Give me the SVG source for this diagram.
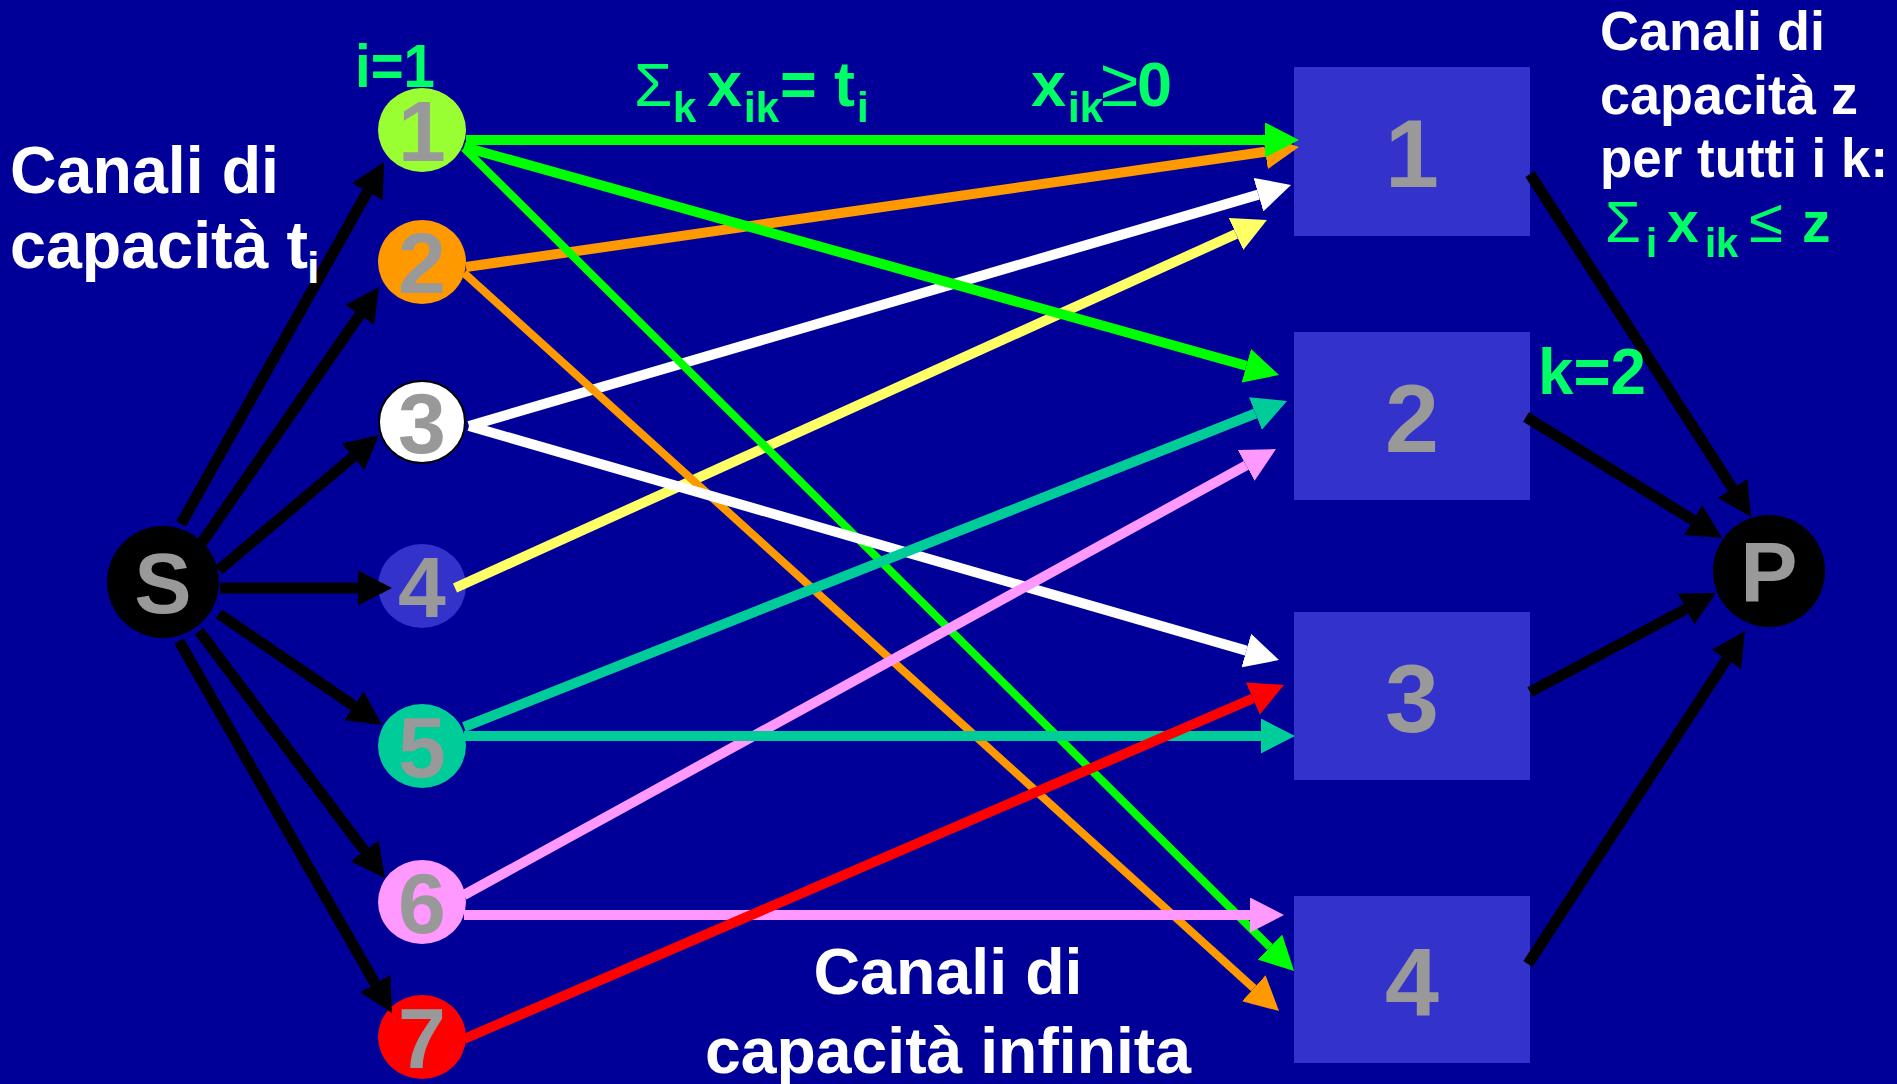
<svg xmlns="http://www.w3.org/2000/svg" width="1897" height="1084" viewBox="0 0 1897 1084">
  <defs>
    <marker id="ah-black" markerUnits="userSpaceOnUse" markerWidth="34" markerHeight="35" viewBox="0 0 34 35" refX="0" refY="17.5" orient="auto"><path d="M0,0 L34,17.5 L0,35 z" fill="#000000"/></marker>
    <marker id="ah-green" markerUnits="userSpaceOnUse" markerWidth="34" markerHeight="35" viewBox="0 0 34 35" refX="0" refY="17.5" orient="auto"><path d="M0,0 L34,17.5 L0,35 z" fill="#00FF00"/></marker>
    <marker id="ah-orange" markerUnits="userSpaceOnUse" markerWidth="34" markerHeight="35" viewBox="0 0 34 35" refX="0" refY="17.5" orient="auto"><path d="M0,0 L34,17.5 L0,35 z" fill="#FF9900"/></marker>
    <marker id="ah-white" markerUnits="userSpaceOnUse" markerWidth="34" markerHeight="35" viewBox="0 0 34 35" refX="0" refY="17.5" orient="auto"><path d="M0,0 L34,17.5 L0,35 z" fill="#FFFFFF"/></marker>
    <marker id="ah-yellow" markerUnits="userSpaceOnUse" markerWidth="34" markerHeight="35" viewBox="0 0 34 35" refX="0" refY="17.5" orient="auto"><path d="M0,0 L34,17.5 L0,35 z" fill="#FFFF66"/></marker>
    <marker id="ah-teal" markerUnits="userSpaceOnUse" markerWidth="34" markerHeight="35" viewBox="0 0 34 35" refX="0" refY="17.5" orient="auto"><path d="M0,0 L34,17.5 L0,35 z" fill="#00CC99"/></marker>
    <marker id="ah-pink" markerUnits="userSpaceOnUse" markerWidth="34" markerHeight="35" viewBox="0 0 34 35" refX="0" refY="17.5" orient="auto"><path d="M0,0 L34,17.5 L0,35 z" fill="#FF99FF"/></marker>
    <marker id="ah-red" markerUnits="userSpaceOnUse" markerWidth="34" markerHeight="35" viewBox="0 0 34 35" refX="0" refY="17.5" orient="auto"><path d="M0,0 L34,17.5 L0,35 z" fill="#FF0000"/></marker>
  </defs>
  <style>
    text { font-family: "Liberation Sans", Arial, sans-serif; font-weight: bold; }
    .num { fill: #999999; font-size: 86px; text-anchor: middle; }
    .boxnum { fill: #999999; font-size: 97px; text-anchor: middle; }
    .box { fill: #3333CC; }
    .note { fill: #FFFFFF; }
    .math { fill: #00FF66; }
    .sym { font-weight: normal; }
    .edge { fill: none; stroke-width: 10; }
    .black { stroke: #000000; stroke-width: 11; marker-end: url(#ah-black); }
    .green { stroke: #00FF00; marker-end: url(#ah-green); }
    .orange { stroke: #FF9900; marker-end: url(#ah-orange); }
    .white { stroke: #FFFFFF; marker-end: url(#ah-white); }
    .yellow { stroke: #FFFF66; marker-end: url(#ah-yellow); }
    .teal { stroke: #00CC99; marker-end: url(#ah-teal); }
    .pink { stroke: #FF99FF; marker-end: url(#ah-pink); }
    .red { stroke: #FF0000; marker-end: url(#ah-red); }
    .thin { stroke-width: 8; }
  </style>

  <!-- background -->
  <rect x="0" y="0" width="1897" height="1084" fill="#000099"/>

  <!-- source -->
  <g id="node-S">
    <circle cx="163" cy="582" r="56" fill="#000000"/>
    <text class="num" x="163" y="613">S</text>
  </g>

  <!-- sources i = 1..7 -->
  <g id="node-i1">
    <ellipse cx="422" cy="130" rx="44" ry="42" fill="#99FF33"/>
    <text class="num" x="422" y="161">1</text>
  </g>
  <g id="node-i2">
    <ellipse cx="422" cy="262" rx="44" ry="42" fill="#FF9900"/>
    <text class="num" x="422" y="293">2</text>
  </g>
  <g id="node-i3">
    <ellipse cx="422" cy="422" rx="43" ry="41" fill="#FFFFFF" stroke="#000000" stroke-width="2"/>
    <text class="num" x="422" y="453">3</text>
  </g>
  <g id="node-i4">
    <ellipse cx="422" cy="586" rx="44" ry="42" fill="#3333CC"/>
    <text class="num" x="422" y="617">4</text>
  </g>
  <g id="node-i5">
    <ellipse cx="422" cy="746" rx="44" ry="42" fill="#00CC99"/>
    <text class="num" x="422" y="777">5</text>
  </g>
  <g id="node-i6">
    <ellipse cx="422" cy="902" rx="44" ry="42" fill="#FF99FF"/>
    <text class="num" x="422" y="933">6</text>
  </g>
  <g id="node-i7">
    <ellipse cx="422" cy="1037" rx="44" ry="42" fill="#FF0000"/>
    <text class="num" x="422" y="1068">7</text>
  </g>

  <!-- destinations k = 1..4 -->
  <g id="node-k1">
    <rect class="box" x="1294" y="67" width="236" height="169"/>
    <text class="boxnum" x="1412" y="187">1</text>
  </g>
  <g id="node-k2">
    <rect class="box" x="1294" y="332" width="236" height="168"/>
    <text class="boxnum" x="1412" y="452">2</text>
  </g>
  <g id="node-k3">
    <rect class="box" x="1294" y="612" width="236" height="168"/>
    <text class="boxnum" x="1412" y="732">3</text>
  </g>
  <g id="node-k4">
    <rect class="box" x="1294" y="896" width="236" height="167"/>
    <text class="boxnum" x="1412" y="1016">4</text>
  </g>

  <!-- sink -->
  <g id="node-P">
    <circle cx="1769" cy="571" r="56" fill="#000000"/>
    <text class="num" x="1769" y="602">P</text>
  </g>

  <!-- arcs -->
  <g id="connectors">
    <!-- S to sources -->
    <path class="edge black" d="M181,524 L367.4,191.7"/>
    <path class="edge black" d="M201,544 L359.7,314.9"/>
    <path class="edge black" d="M219,570 L353,456.9"/>
    <path class="edge black" d="M220,588 L358,588"/>
    <path class="edge black" d="M219,614 L353.9,705.9"/>
    <path class="edge black" d="M199,631 L364.5,850.8"/>
    <path class="edge black" d="M179,641 L375.1,983.5"/>

    <!-- destinations to P -->
    <path class="edge black" d="M1530,174 L1732.6,488.4"/>
    <path class="edge black" d="M1526,417 L1693.1,520.1"/>
    <path class="edge black" d="M1530,692 L1686,609"/>
    <path class="edge black" d="M1528,964 L1726.4,659.5"/>

    <!-- sources to destinations -->
    <path class="edge orange" d="M466,267 L1265.3,151.8"/>
    <path class="edge green" d="M466,140 L1265,140"/>
    <path class="edge white" d="M469,426 L1258.4,194.6"/>
    <path class="edge yellow" d="M455,588 L1236,234"/>
    <path class="edge green" d="M464,147 L1246.3,365.8"/>
    <path class="edge orange thin" d="M464,273 L1253.8,988.2"/>
    <path class="edge green thin" d="M464,148 L1269.9,947.1"/>
    <path class="edge white" d="M469,426 L1246.3,650.6"/>
    <path class="edge teal" d="M464,727 L1255.4,413.5"/>
    <path class="edge pink" d="M464,895 L1246.2,465.4"/>
    <path class="edge teal" d="M464,736 L1261,736"/>
    <path class="edge pink" d="M464,915 L1250,915"/>
    <path class="edge red" d="M464,1039 L1252.8,698.5"/>
  </g>

  <!-- annotations -->
  <text class="math" x="355" y="87" font-size="62" textLength="80" lengthAdjust="spacingAndGlyphs">i=1</text>

  <text class="note" x="10" y="193" font-size="67" textLength="269" lengthAdjust="spacingAndGlyphs">Canali di</text>
  <text class="note" x="10" y="268" font-size="67" textLength="298" lengthAdjust="spacingAndGlyphs">capacità t</text>
  <text class="note" x="307" y="283" font-size="45">i</text>

  <text class="math" y="106">
    <tspan class="sym" x="634" font-size="62">Σ</tspan><tspan x="673" y="122" font-size="42">k</tspan><tspan x="707" y="106" font-size="63">x</tspan><tspan x="744" y="122" font-size="42">ik</tspan><tspan x="780" y="106" font-size="63">=</tspan><tspan x="834" y="106" font-size="63">t</tspan><tspan x="857" y="122" font-size="42">i</tspan>
  </text>
  <text class="math" y="106">
    <tspan x="1031" font-size="63">x</tspan><tspan x="1068" y="122" font-size="42">ik</tspan><tspan class="sym" x="1101" y="106" font-size="68">≥</tspan><tspan x="1137" y="106" font-size="63">0</tspan>
  </text>

  <text class="note" x="1600" y="50" font-size="56" textLength="225" lengthAdjust="spacingAndGlyphs">Canali di</text>
  <text class="note" x="1600" y="114" font-size="56" textLength="258" lengthAdjust="spacingAndGlyphs">capacità z</text>
  <text class="note" x="1600" y="177" font-size="56" textLength="288" lengthAdjust="spacingAndGlyphs">per tutti i k:</text>
  <text class="math" y="242">
    <tspan class="sym" x="1605" font-size="58">Σ</tspan><tspan x="1646" y="257" font-size="40">i</tspan><tspan x="1667" y="242" font-size="57">x</tspan><tspan x="1705" y="257" font-size="40">ik</tspan><tspan class="sym" x="1749" y="242" font-size="62">≤</tspan><tspan x="1802" y="242" font-size="57">z</tspan>
  </text>

  <text class="math" x="1538" y="394" font-size="64" textLength="108" lengthAdjust="spacingAndGlyphs">k=2</text>

  <text class="note" x="948" y="994" font-size="65" text-anchor="middle" textLength="269" lengthAdjust="spacingAndGlyphs">Canali di</text>
  <text class="note" x="948" y="1073" font-size="65" text-anchor="middle" textLength="486" lengthAdjust="spacingAndGlyphs">capacità infinita</text>
</svg>
